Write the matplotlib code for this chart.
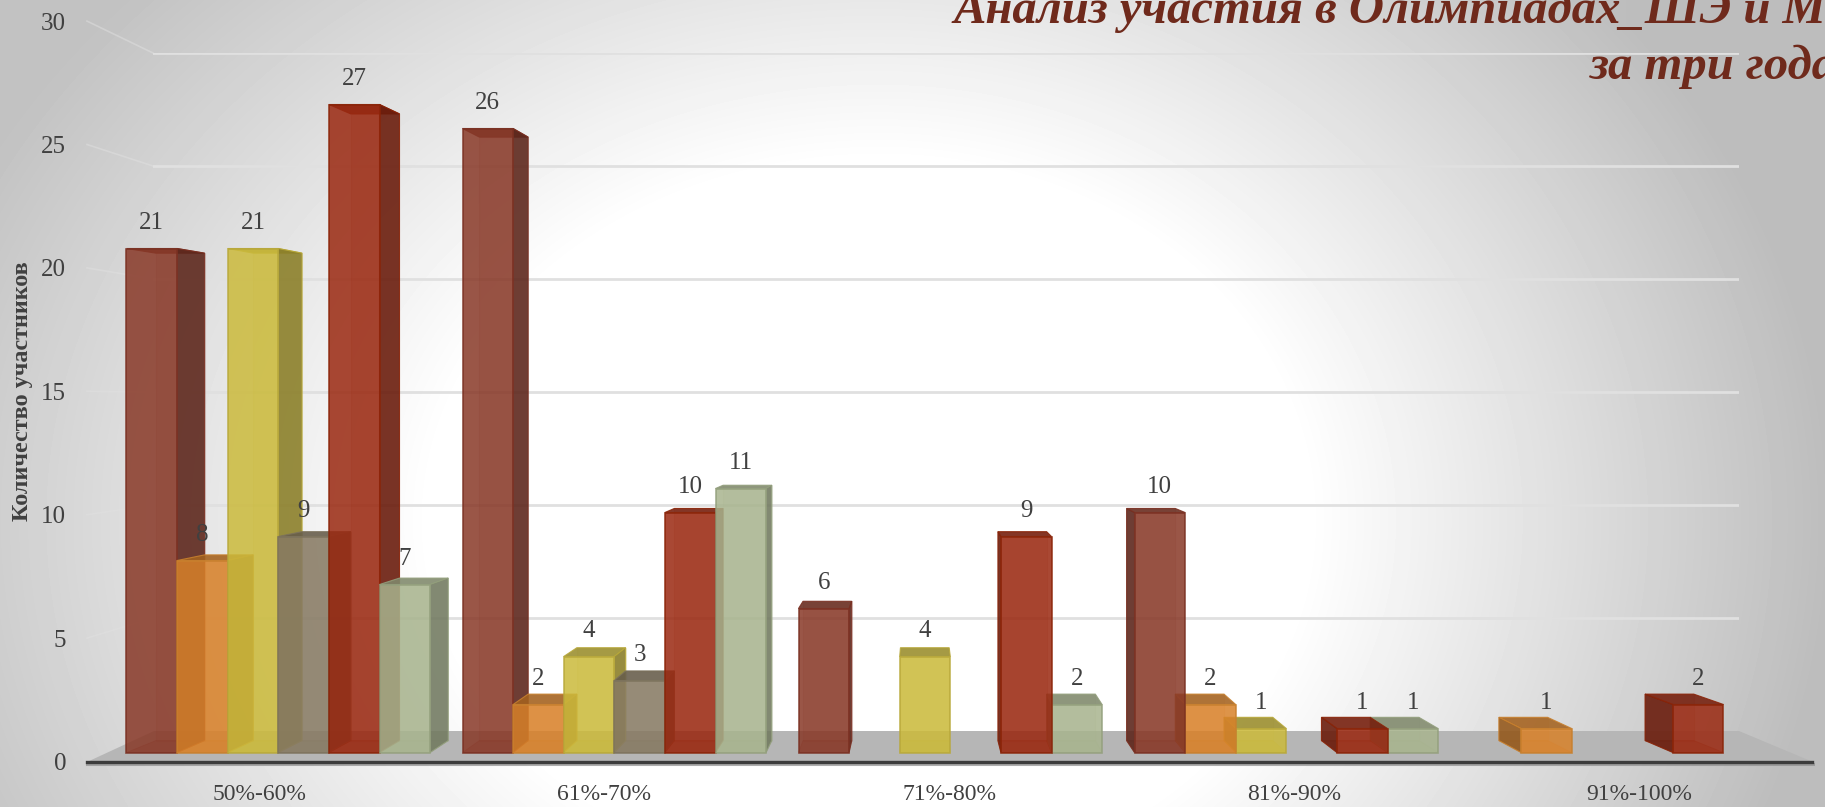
import numpy as np
import matplotlib
matplotlib.use('Agg')
import matplotlib.pyplot as plt
from matplotlib.patches import Polygon

plt.rcParams['font.family'] = ['Liberation Serif', 'DejaVu Serif']

categories = ['50%-60%', '61%-70%', '71%-80%', '81%-90%', '91%-100%']
# 0 means no bar in this group
brown = [21, 26, 6, 10, 0]
orange = [8, 2, 0, 2, 1]
yellow = [21, 4, 4, 1, 0]
grey = [9, 3, 0, 0, 0]
red = [27, 10, 9, 1, 2]
green = [7, 11, 2, 1, 0]
series = [brown, orange, yellow, grey, red, green]
colors = ['#883827', '#d88129', '#cbba3b', '#877a63', '#9a2810', '#a8b48e']
edges = ['#7a3022', '#c8802e', '#b8a83a', '#7c725c', '#8a2408', '#939f7c']
y_ticks = [0, 5, 10, 15, 20, 25, 30]

W, H = 1825, 807
TEXT = '#404040'

fig = plt.figure(figsize=(W / 100, H / 100), dpi=100)


def px_axes(left, top, right, bottom):
    return fig.add_axes([left / W, 1 - bottom / H, (right - left) / W, (bottom - top) / H])


# background and floor, in pixels
bg = fig.add_axes([0, 0, 1, 1])
xx, yy = np.meshgrid(np.arange(W), np.arange(H))
d = np.sqrt(((xx - 880) / (1000 - 50 * (xx > 880))) ** 2 + ((yy - 520) / 800) ** 2)
amp = 0.24 + 0.02 * xx / W
shade = 1 - amp * np.clip((d - 0.45) / 0.55, 0, 1)
bg.imshow(shade, cmap='gray', vmin=0, vmax=1, extent=(0, W, H, 0), aspect='auto')
bg.set_xlim(0, W)
bg.set_ylim(H, 0)
bg.axis('off')
bg.add_patch(Polygon([(87, 762), (154, 731), (1739, 731), (1813, 762)], color='#b6b6b6', lw=0))
bg.plot([87, 1813], [764, 764], color='#8c8c8c', lw=2.2, alpha=0.7)
for v in y_ticks[1:]:
    bg.plot([87, 153], [761.5 - 24.68 * v, 731 - 22.6 * v], color='#e0e0e0', lw=1.2, alpha=0.5)

# back wall grid
wall = px_axes(153, 53, 1739, 731)
wall.patch.set_visible(False)
wall.set_ylim(0, 30)
wall.set_yticks(y_ticks[1:])
wall.set_xticks([])
wall.tick_params(length=0, labelleft=False)
wall.grid(axis='y', color='#e0e0e0', lw=2)
for s in wall.spines.values():
    s.set_visible(False)

# front axis with the labels
front = px_axes(87, 21, 1812, 761.5)
front.patch.set_visible(False)
front.set_xlim(-0.5, 4.5)
front.set_ylim(0, 30)
front.set_xticks(range(len(categories)))
front.set_xticklabels(categories, fontsize=17)
front.set_yticks(y_ticks)
front.tick_params(length=0, labelsize=18, labelcolor=TEXT)
front.tick_params(axis='x', labelsize=17, pad=16.5)
front.tick_params(axis='y', pad=15)
for name in ['top', 'left', 'right']:
    front.spines[name].set_visible(False)
front.spines['bottom'].set_color('#3c3c3c')
front.spines['bottom'].set_linewidth(2.4)
front.set_ylabel('Количество участников', fontweight='bold', fontsize=17.4, color=TEXT, labelpad=6)

# bars: one x unit is a group, one y unit is a participant
bars = fig.add_axes([0, 0, 1, 1])
bars.patch.set_visible(False)
bars.axis('off')
bars.set_xlim(-126.5 / 336, (W - 126.5) / 336)
bars.set_ylim((752.5 - H) / 24, 752.5 / 24)
bar_w = 50.6 / 336
kx, ky = 0.037, 0.033
xv, yv = (920 - 126.5) / 336, (752.5 - 390) / 24


def back(x, y):
    return x + kx * (xv - x), y + ky * (yv - y)


def dark(c, f):
    rgb = np.array(matplotlib.colors.to_rgb(c))
    return tuple(rgb * f)


# far from the vanishing point first, so nearer bars lie on top
order = []
for g in range(len(categories)):
    for s, vals in enumerate(series):
        if vals[g] != 0:
            order.append((g, s))
order.sort(key=lambda p: -abs(p[0] + (p[1] + 0.5) * bar_w - xv))

for g, s in order:
    v = series[s][g]
    x0 = g + s * bar_w
    x1 = x0 + bar_w
    c, e = colors[s], edges[s]
    bx0, by0 = back(x0, 0)
    bx1, by1 = back(x1, v)
    # back face, floor, top
    bars.add_patch(Polygon([(bx0, by0), (bx1, by0), (bx1, by1), (bx0, by1)], fc=c, ec=e, lw=0.8, alpha=0.12))
    bars.add_patch(Polygon([(x0, 0), (x1, 0), (bx1, by0), (bx0, by0)], fc=c, ec=e, lw=0.6, alpha=0.3))
    bars.add_patch(Polygon([(x0, v), (x1, v), (bx1, by1), (bx0, by1)], fc=dark(c, 0.76), ec=e, lw=0.8, alpha=0.88))
    # the side we can see
    if x1 < xv:
        side = [(x1, 0), (bx1, by0), (bx1, by1), (x1, v)]
    elif x0 > xv:
        side = [(x0, 0), (bx0, by0), (bx0, by1), (x0, v)]
    else:
        side = None
    if side:
        bars.add_patch(Polygon(side, fc=dark(c, 0.68), ec=e, lw=0.8, alpha=0.88))
    bars.bar(x0, v, width=bar_w, align='edge', color=c, edgecolor=e, linewidth=1.2, alpha=0.85)
    bars.text(x0 + bar_w / 2, v + 1.08, str(v), ha='center', va='center', fontsize=18, color=TEXT, zorder=5)

title_color = '#6f2a1c'
fig.text(954 / W, 1 - 23 / H, 'Анализ участия в Олимпиадах_ШЭ и МЭ', fontsize=35, fontweight='bold',
         fontstyle='italic', color=title_color, ha='left', va='baseline')
fig.text(1589 / W, 1 - 79 / H, 'за три года', fontsize=35, fontweight='bold',
         fontstyle='italic', color=title_color, ha='left', va='baseline')

fig.savefig('out.png', dpi=100)
